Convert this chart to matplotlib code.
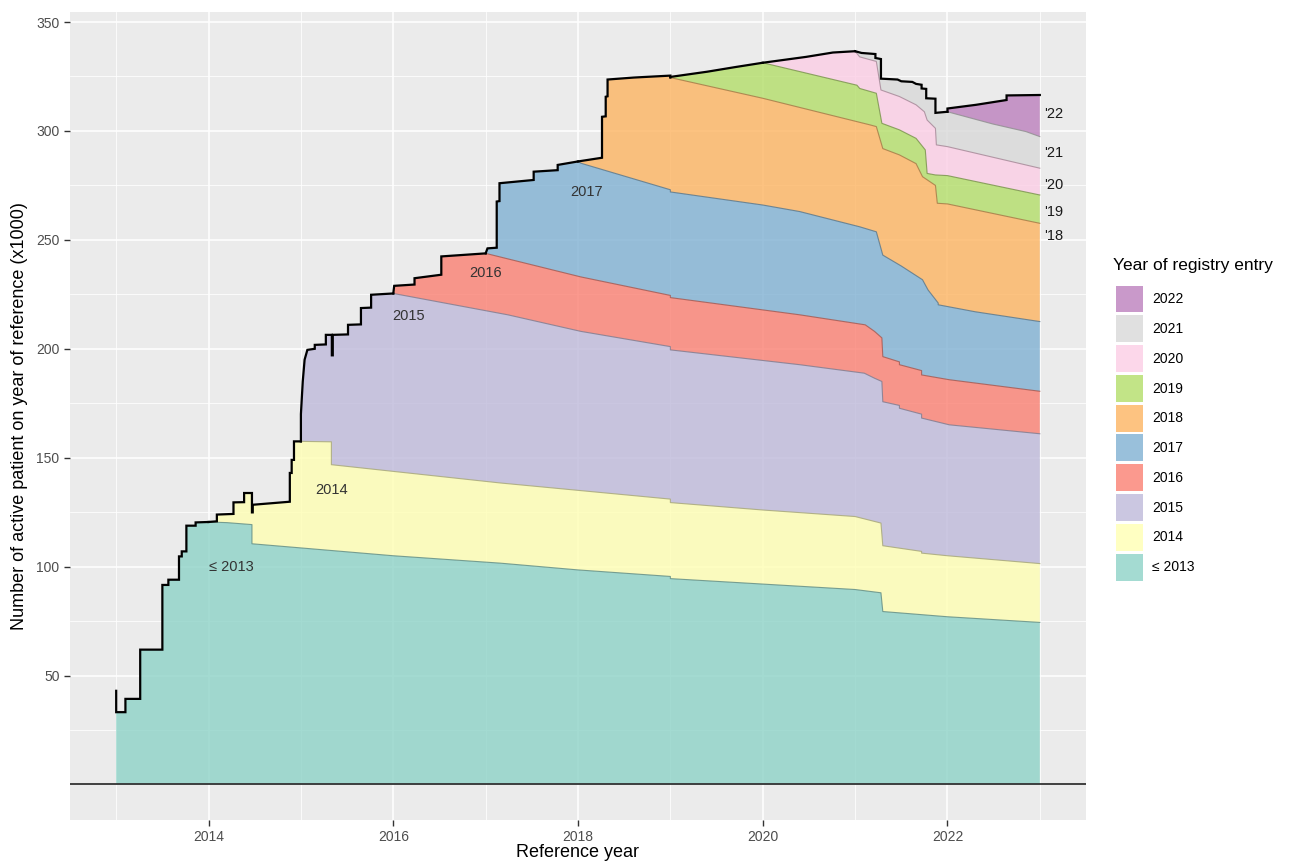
import matplotlib
matplotlib.use("Agg")
import matplotlib.pyplot as plt
import numpy as np
from matplotlib.patches import Patch

plt.rcParams['font.family'] = ['Liberation Sans', 'DejaVu Sans']

# cohorts (year of registry entry)
cohorts = ["≤ 2013", "2014", "2015", "2016", "2017", "2018", "2019", "2020", "2021", "2022"]
entry_year = [2013, 2014, 2015, 2016, 2017, 2018, 2019, 2020, 2021, 2022]
colors = ["#8DD3C7", "#FFFFB3", "#BEBADA", "#FB8072", "#80B1D3",
          "#FDB462", "#B3DE69", "#FCCDE5", "#D9D9D9", "#BC80BD"]

# cumulative upper boundary of each cohort (x1000 patients):
# growth during the entry year (the black envelope) followed by the decline
top_2013 = [(2013.0, 43), (2013.0, 33.2), (2013.10, 33.2), (2013.10, 39.3), (2013.26, 39.3),
            (2013.26, 61.9), (2013.50, 61.9), (2013.50, 91.6), (2013.565, 91.6), (2013.565, 94),
            (2013.68, 94), (2013.68, 104.7), (2013.71, 104.7), (2013.71, 107), (2013.76, 107),
            (2013.76, 118.8), (2013.86, 118.8), (2013.86, 120.3), (2014.0, 120.5),
            (2014.2, 120.2), (2014.47, 119.3), (2014.47, 110.5), (2016.0, 105), (2017.16, 101.6),
            (2018.0, 98.5), (2019.0, 95.5), (2019.0, 94.5), (2020.0, 92), (2021.0, 89.5),
            (2021.28, 88), (2021.30, 79.4), (2022.0, 77), (2023.0, 74.4)]
top_2014 = [(2014.0, 120.5), (2014.09, 120.8), (2014.09, 123.9), (2014.27, 124.2), (2014.27, 129.5),
            (2014.385, 129.6), (2014.385, 133.8), (2014.47, 133.8), (2014.47, 124.9),
            (2014.478, 124.9), (2014.478, 128.4), (2014.88, 129.8), (2014.88, 143), (2014.90, 143),
            (2014.90, 149), (2014.925, 149), (2014.925, 157.5), (2015.0, 157.5),
            (2015.33, 157.3), (2015.33, 146.8), (2017.16, 138.4), (2019.0, 131), (2019.0, 129.4),
            (2020.0, 126), (2021.0, 123), (2021.28, 120), (2021.30, 109.6), (2021.72, 107),
            (2021.72, 106.2), (2022.0, 105), (2023.0, 101.4)]
top_2015 = [(2015.0, 157.5), (2015.0, 170), (2015.02, 185), (2015.04, 195), (2015.07, 199.5),
            (2015.15, 200), (2015.15, 201.8), (2015.27, 202), (2015.27, 206.4), (2015.335, 206.4),
            (2015.335, 197), (2015.345, 197), (2015.345, 206.4), (2015.51, 206.6), (2015.51, 211),
            (2015.65, 211.2), (2015.65, 218.7), (2015.76, 218.9), (2015.76, 224.8), (2016.0, 225.4),
            (2017.24, 215.6), (2018.03, 208), (2019.0, 201), (2019.0, 199.5), (2020.4, 192.7),
            (2021.1, 188.8), (2021.21, 186.5), (2021.29, 185), (2021.30, 175.7), (2021.48, 174),
            (2021.48, 172.7), (2021.72, 170), (2021.72, 168.2), (2022.02, 165.1), (2023.0, 161)]
top_2016 = [(2016.0, 225.4), (2016.01, 228.9), (2016.23, 229.5), (2016.23, 232.4), (2016.52, 234),
            (2016.52, 242.4), (2017.0, 243.8),
            (2018.03, 233), (2019.0, 224.5), (2019.0, 223.5), (2020.4, 215.6), (2021.11, 211),
            (2021.21, 208), (2021.29, 205), (2021.30, 196.4), (2021.48, 194), (2021.48, 192.7),
            (2021.72, 190), (2021.72, 188), (2022.02, 185.8), (2023.0, 180.5)]
top_2017 = [(2017.0, 243.8), (2017.02, 246.1), (2017.12, 246.4), (2017.12, 267.6), (2017.15, 267.8),
            (2017.15, 276), (2017.52, 277.5), (2017.52, 281.3), (2017.78, 282), (2017.78, 284.4),
            (2018.0, 286),
            (2018.03, 285.2), (2019.0, 273), (2019.0, 272), (2020.0, 266), (2020.4, 263),
            (2021.05, 256), (2021.23, 253.7), (2021.30, 243), (2021.5, 238), (2021.73, 231.7),
            (2021.79, 227), (2021.9, 221), (2021.9, 220.2), (2022.3, 217), (2023.0, 212.5)]
top_2018 = [(2018.0, 286), (2018.26, 287.7), (2018.26, 306.5), (2018.30, 306.7), (2018.30, 315.7),
            (2018.32, 315.9), (2018.32, 323.6), (2018.6, 324.5), (2019.0, 325.4),
            (2019.0, 324.5), (2020.0, 315), (2021.16, 302.8), (2021.23, 302), (2021.30, 291.9),
            (2021.48, 289), (2021.66, 285), (2021.73, 279), (2021.87, 275), (2021.89, 266.8),
            (2022.0, 266.5), (2023.0, 257.6)]
top_2019 = [(2019.0, 324.8), (2019.4, 327.2), (2019.7, 329.3), (2020.0, 331.3),
            (2021.02, 321), (2021.05, 319.5), (2021.23, 317.3), (2021.29, 303.5), (2021.48, 300.5),
            (2021.66, 296.6), (2021.76, 291.3), (2021.78, 280.5), (2021.87, 279.8), (2022.0, 279.5),
            (2023.0, 270.6)]
top_2020 = [(2020.0, 331.3), (2020.47, 334), (2020.76, 336), (2021.0, 336.6),
            (2021.05, 334), (2021.23, 331.9), (2021.28, 318.8), (2021.48, 315.8), (2021.66, 312),
            (2021.75, 308.8), (2021.78, 305), (2021.87, 301.2), (2021.88, 293.6), (2022.0, 292.8),
            (2023.0, 282.9)]
top_2021 = [(2021.0, 336.6), (2021.07, 335.8), (2021.22, 335.3), (2021.22, 333.5), (2021.28, 333),
            (2021.28, 324), (2021.46, 323.6), (2021.5, 322.8), (2021.62, 322.5), (2021.66, 321.6),
            (2021.72, 321.2), (2021.72, 319.5), (2021.77, 319.3), (2021.77, 315), (2021.87, 314.8),
            (2021.87, 308.3), (2022.0, 308.8),
            (2022.49, 303.2), (2022.85, 299.7), (2023.0, 297.4)]
top_2022 = [(2022.0, 308.8), (2022.0, 310.3), (2022.31, 312), (2022.64, 314.2), (2022.64, 316.3),
            (2023.0, 316.5)]

tops = [top_2013, top_2014, top_2015, top_2016, top_2017,
        top_2018, top_2019, top_2020, top_2021, top_2022]

# in-plot labels
band_labels = ["≤ 2013", "2014", "2015", "2016", "2017"]
band_label_x = [2014.25, 2015.33, 2016.17, 2017.0, 2018.09]
band_label_y = [100, 135, 215, 235, 272]
end_labels = ["'22", "'21", "'20", "'19", "'18"]
end_label_y = [308, 290, 275, 263, 252]


def darker(c, f=0.65):
    r, g, b = matplotlib.colors.to_rgb(c)
    return (r * f, g * f, b * f)


fig = plt.figure(figsize=(12.91, 8.63), dpi=100)
ax = fig.add_axes([70 / 1291, 1 - 820 / 863, (1086 - 70) / 1291, (820 - 12) / 863])
ax.set_facecolor("#EBEBEB")
for s in ax.spines.values():
    s.set_visible(False)

ax.set_xlim(2012.5, 2023.5)
ax.set_ylim(-16.3, 354.6)
ax.set_xticks(range(2014, 2023, 2))
ax.set_xticks(range(2013, 2024, 2), minor=True)
ax.set_yticks(range(50, 351, 50))
ax.set_yticks(range(25, 351, 50), minor=True)
ax.grid(which="major", color="white", lw=1.1)
ax.grid(which="minor", color="white", lw=0.55)
ax.set_axisbelow(True)
ax.tick_params(which="major", length=4, width=1, color="#333333",
               labelsize=10, labelcolor="#4D4D4D")
ax.tick_params(which="minor", length=0)

for i, pts in enumerate(tops):
    top = np.array(pts, dtype=float)
    y0 = entry_year[i]
    if i == 0:
        lower = np.array([(top[0, 0], 0.0), (2023.0, 0.0)])
    else:
        prev = np.array(tops[i - 1], dtype=float)
        lower = prev[prev[:, 0] >= y0]
    poly = np.vstack([top, lower[::-1]])
    ax.fill(poly[:, 0], poly[:, 1], color=colors[i], alpha=0.8, lw=0, zorder=2)
    dec = top[top[:, 0] >= y0 + 1]
    if len(dec) > 1:
        ax.plot(dec[:, 0], dec[:, 1], color=darker(colors[i]), lw=0.8, alpha=0.8, zorder=3)

for i, pts in enumerate(tops):
    top = np.array(pts, dtype=float)
    grow = top[top[:, 0] <= entry_year[i] + 1]
    ax.plot(grow[:, 0], grow[:, 1], color="black", lw=1.6, zorder=4,
            solid_joinstyle="miter")

ax.axhline(0, color="#333333", lw=1.3, zorder=5)

for lab, x, y in zip(band_labels, band_label_x, band_label_y):
    ax.text(x, y, lab, ha="center", va="center", fontsize=10.5, color="#333333", zorder=6)
for lab, y in zip(end_labels, end_label_y):
    ax.text(2023.05, y, lab, ha="left", va="center", fontsize=10.5, color="#1A1A1A", zorder=6)

ax.set_xlabel("Reference year", fontsize=13, labelpad=0)
ax.set_ylabel("Number of active patient on year of reference (x1000)", fontsize=13, labelpad=6)

# legend: title as its own text so the gap to the keys matches
fig.text(1113 / 1291, 1 - 265 / 863, "Year of registry entry", fontsize=12.5,
         ha="left", va="center")
handles = [Patch(facecolor=colors[i], alpha=0.8, edgecolor="none") for i in range(len(cohorts))][::-1]
leg = fig.legend(handles, cohorts[::-1], loc="upper left", bbox_to_anchor=(1103 / 1291, 1 - 273 / 863),
                 frameon=False, fontsize=10,
                 handlelength=1.95, handleheight=2.6, labelspacing=0.21, handletextpad=0.7)

fig.savefig("out.png", dpi=100)
